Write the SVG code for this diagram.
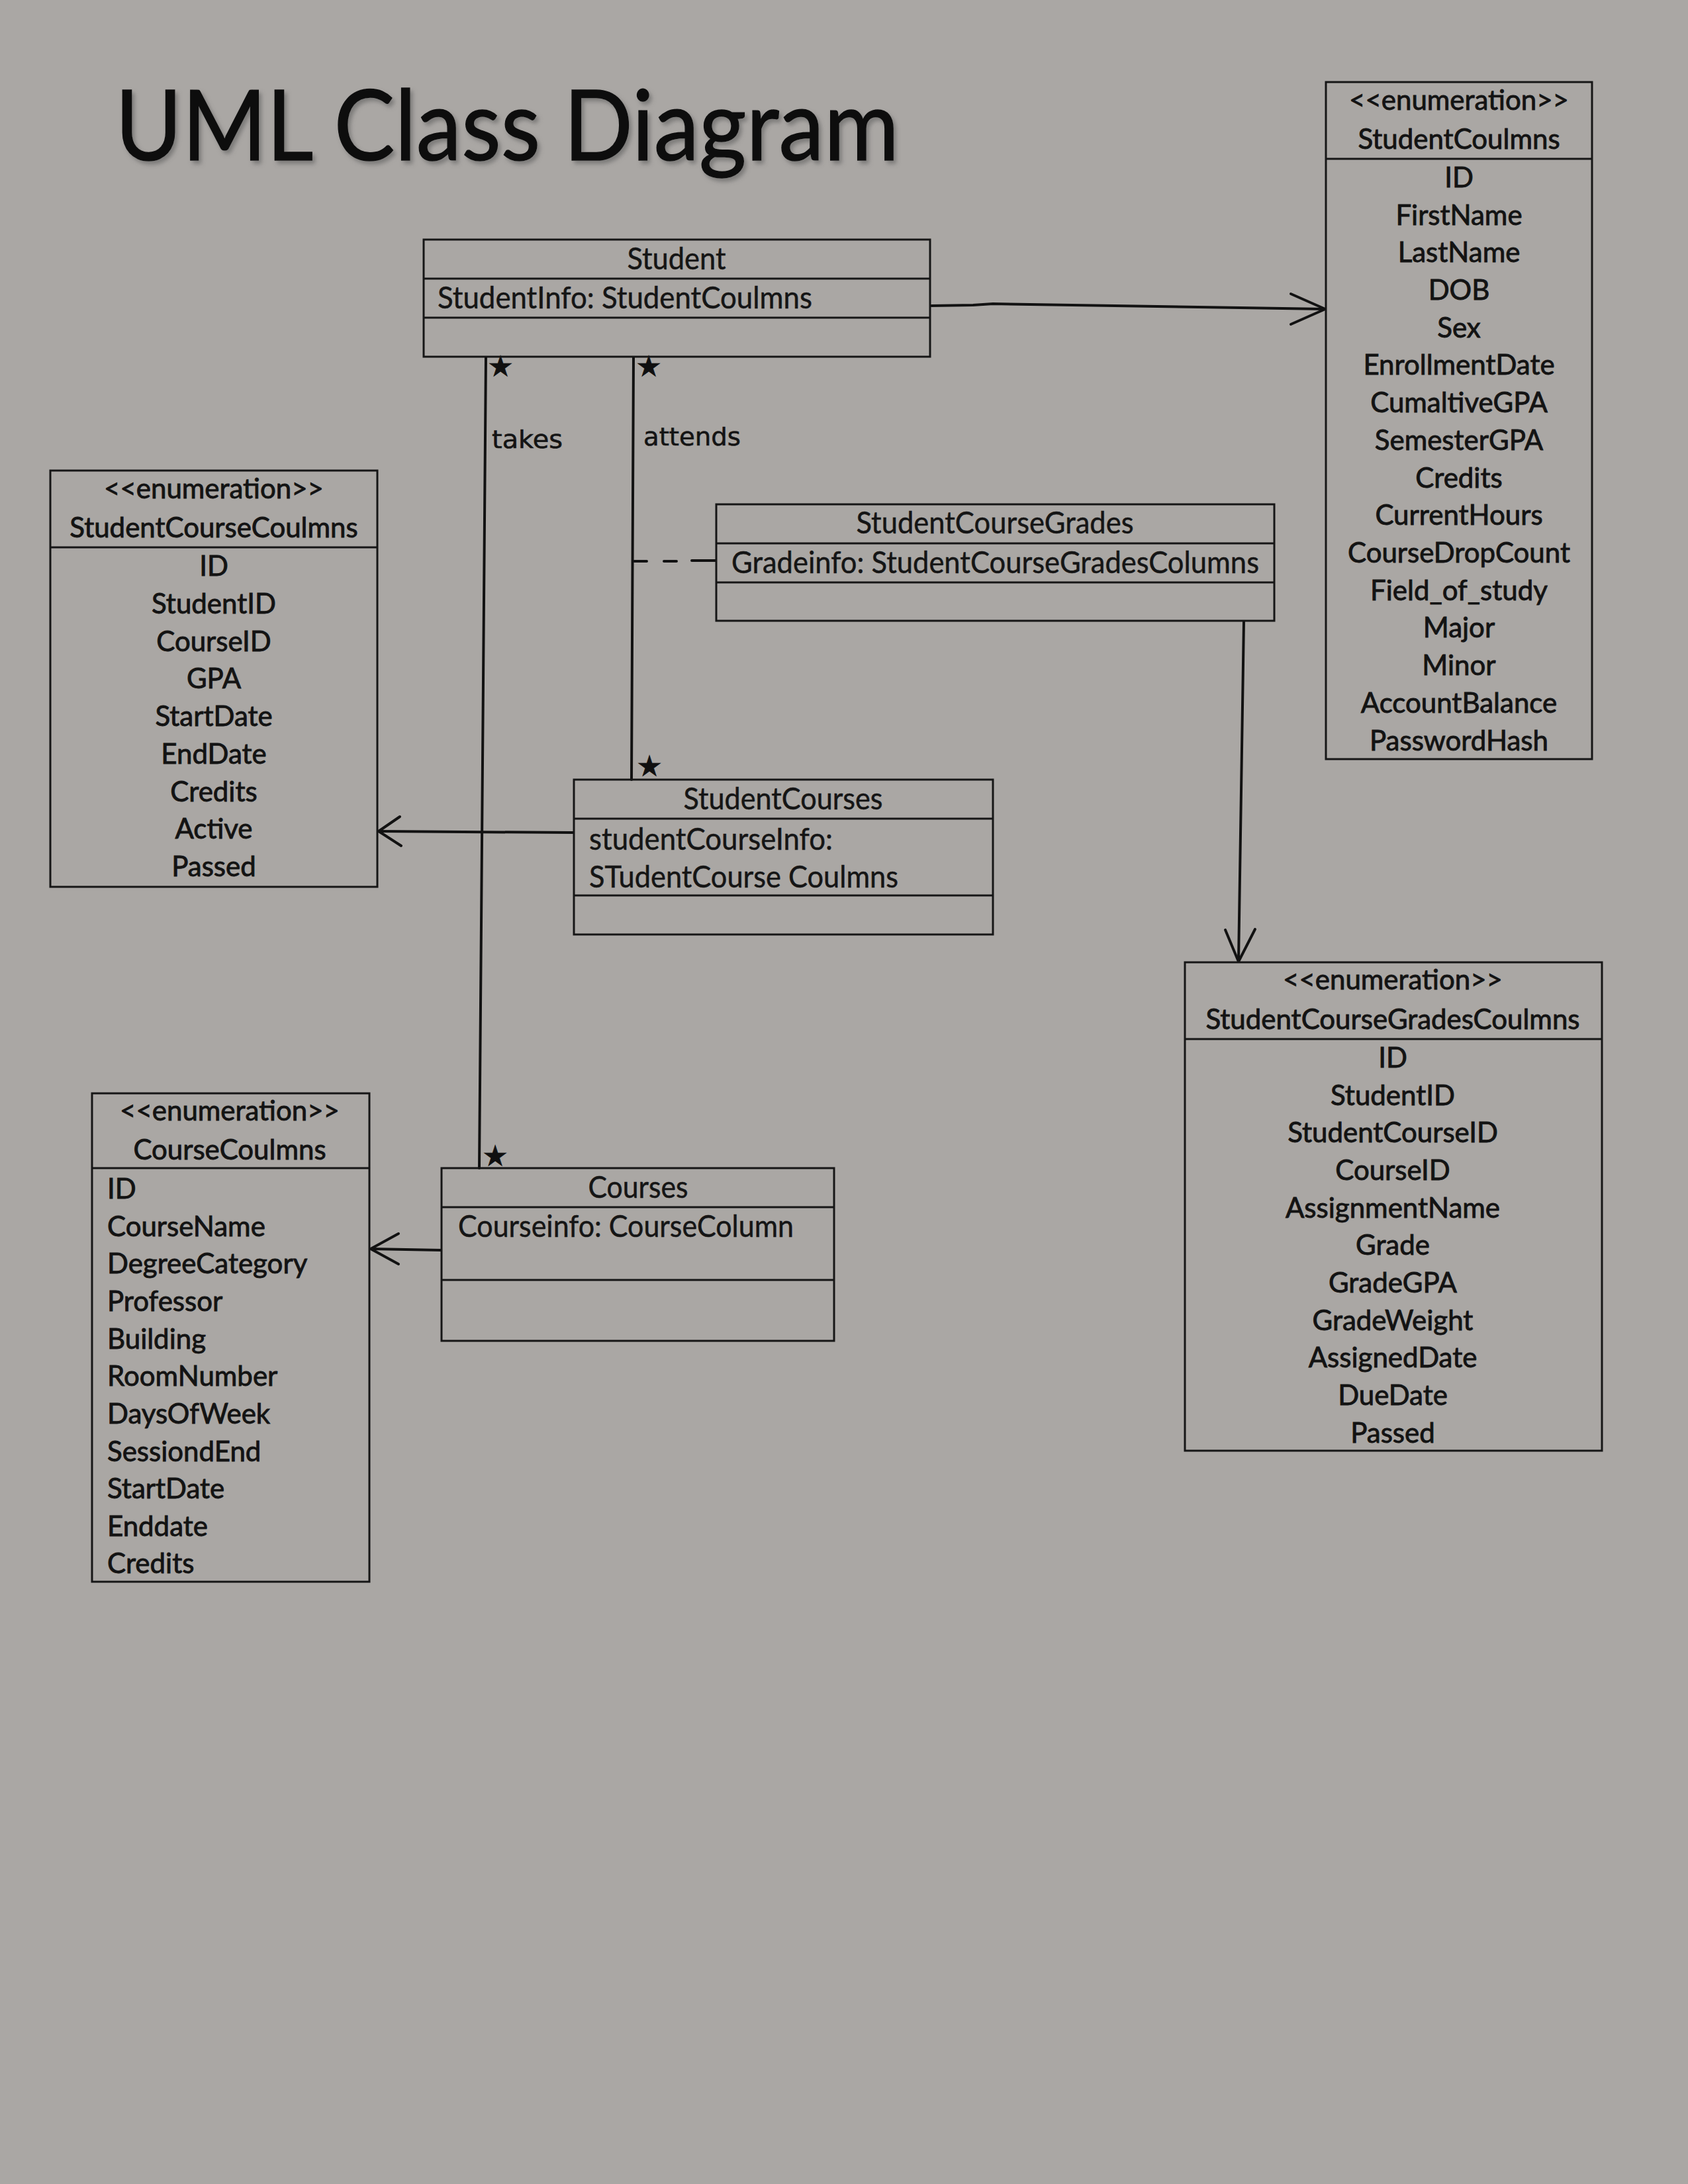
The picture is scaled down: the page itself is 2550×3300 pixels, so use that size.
<svg xmlns="http://www.w3.org/2000/svg" width="2550" height="3300" viewBox="0 0 2550 3300">
  <style>
    .box { fill: none; stroke: #161616; stroke-width: 3; }
    .rule { stroke: #161616; stroke-width: 3; }
    .cls { font-family: Lato, "Open Sans", "Liberation Sans", sans-serif; font-size: 46px; fill: #151515; stroke: #151515; stroke-width: 0.5px; }
    .mid { text-anchor: middle; }
    .enum { font-family: Lato, "Open Sans", "Liberation Sans", sans-serif; font-size: 42px; fill: #131313; stroke: #131313; stroke-width: 0.9px; }
    .conn { fill: none; stroke: #121212; stroke-width: 4; stroke-linecap: round; stroke-linejoin: round; }
    .mult { font-family: "DejaVu Sans", sans-serif; font-size: 42px; fill: #101010; stroke: #101010; stroke-width: 1px; text-anchor: middle; }
    .hand { font-family: "DejaVu Sans", sans-serif; font-size: 38px; fill: #141414; stroke: #141414; stroke-width: 0.6px; }
    .title { font-family: Lato, "Open Sans", "Liberation Sans", sans-serif; font-size: 148px; fill: #0c0c0c; stroke: #0c0c0c; stroke-width: 1.5px; }
  </style>
  <defs>
    <filter id="soft" x="-5%" y="-20%" width="110%" height="140%">
      <feDropShadow dx="4" dy="5" stdDeviation="3" flood-color="#555" flood-opacity="0.55"/>
    </filter>
  </defs>

  <!-- paper -->
  <rect x="0" y="0" width="2550" height="3300" fill="#aaa7a4"/>

  <!-- heading -->
  <text class="title" x="174" y="242" textLength="1184" lengthAdjust="spacingAndGlyphs" filter="url(#soft)">UML Class Diagram</text>

  <!-- associations and dependencies -->
  <g id="connectors">
    <!-- Student to StudentCoulmns -->
    <path class="conn" d="M1407 462 L1470 461 L1500 459 L2001 467"/>
    <path class="conn" d="M1950 444 L2002 467 L1950 490"/>
    <!-- takes: Student with Courses -->
    <path class="conn" d="M734 540 L724 1765"/>
    <text class="mult" x="756" y="568">★</text>
    <text class="mult" x="748" y="1761">★</text>
    <text class="hand" x="743" y="677" textLength="107" lengthAdjust="spacingAndGlyphs">takes</text>
    <!-- attends: Student with StudentCourses -->
    <path class="conn" d="M957 540 L954 1178"/>
    <text class="mult" x="980" y="568">★</text>
    <text class="mult" x="981" y="1172">★</text>
    <text class="hand" x="972" y="673" textLength="147" lengthAdjust="spacingAndGlyphs">attends</text>
    <!-- association class link -->
    <path class="conn" d="M958 848 H977 M1003 848 H1022 M1045 847 H1081"/>
    <!-- StudentCourseGrades to StudentCourseGradesCoulmns -->
    <path class="conn" d="M1879 939 L1871 1453"/>
    <path class="conn" d="M1851 1405 L1871 1453 L1896 1404"/>
    <!-- StudentCourses to StudentCourseCoulmns -->
    <path class="conn" d="M866 1258 L700 1257 L572 1256"/>
    <path class="conn" d="M604 1234 L572 1256 L606 1278"/>
    <!-- Courses to CourseCoulmns -->
    <path class="conn" d="M666 1889 L560 1887"/>
    <path class="conn" d="M602 1864 L560 1887 L602 1910"/>
  </g>

  <g id="student">
    <rect class="box" x="640" y="362" width="765" height="177"/>
    <line class="rule" x1="640" y1="421" x2="1405" y2="421"/>
    <line class="rule" x1="640" y1="480" x2="1405" y2="480"/>
    <text class="cls mid" x="1022" y="407" textLength="149" lengthAdjust="spacingAndGlyphs">Student</text>
    <text class="cls" x="661" y="466" textLength="566" lengthAdjust="spacingAndGlyphs">StudentInfo: StudentCoulmns</text>
  </g>

  <g id="student-coulmns">
    <rect class="box" x="2003" y="124" width="402" height="1023"/>
    <line class="rule" x1="2003" y1="240" x2="2405" y2="240"/>
    <g class="enum mid">
      <text x="2204" y="166">&lt;&lt;enumeration&gt;&gt;</text>
      <text x="2204" y="225">StudentCoulmns</text>
      <text x="2204" y="283">ID</text>
      <text x="2204" y="340">FirstName</text>
      <text x="2204" y="396">LastName</text>
      <text x="2204" y="453">DOB</text>
      <text x="2204" y="510">Sex</text>
      <text x="2204" y="566">EnrollmentDate</text>
      <text x="2204" y="623">CumaltiveGPA</text>
      <text x="2204" y="680">SemesterGPA</text>
      <text x="2204" y="737">Credits</text>
      <text x="2204" y="793">CurrentHours</text>
      <text x="2204" y="850">CourseDropCount</text>
      <text x="2204" y="907">Field_of_study</text>
      <text x="2204" y="963">Major</text>
      <text x="2204" y="1020">Minor</text>
      <text x="2204" y="1077">AccountBalance</text>
      <text x="2204" y="1134">PasswordHash</text>
    </g>
  </g>

  <g id="student-course-coulmns">
    <rect class="box" x="76" y="711" width="494" height="629"/>
    <line class="rule" x1="76" y1="827" x2="570" y2="827"/>
    <g class="enum mid">
      <text x="323" y="753">&lt;&lt;enumeration&gt;&gt;</text>
      <text x="323" y="812">StudentCourseCoulmns</text>
      <text x="323" y="870">ID</text>
      <text x="323" y="927">StudentID</text>
      <text x="323" y="984">CourseID</text>
      <text x="323" y="1040">GPA</text>
      <text x="323" y="1097">StartDate</text>
      <text x="323" y="1154">EndDate</text>
      <text x="323" y="1211">Credits</text>
      <text x="323" y="1267">Active</text>
      <text x="323" y="1324">Passed</text>
    </g>
  </g>

  <g id="student-course-grades">
    <rect class="box" x="1082" y="762" width="843" height="176"/>
    <line class="rule" x1="1082" y1="821" x2="1925" y2="821"/>
    <line class="rule" x1="1082" y1="880" x2="1925" y2="880"/>
    <text class="cls mid" x="1503" y="806" textLength="419" lengthAdjust="spacingAndGlyphs">StudentCourseGrades</text>
    <text class="cls" x="1105" y="866" textLength="797" lengthAdjust="spacingAndGlyphs">Gradeinfo: StudentCourseGradesColumns</text>
  </g>

  <g id="student-courses">
    <rect class="box" x="867" y="1178" width="633" height="234"/>
    <line class="rule" x1="867" y1="1237" x2="1500" y2="1237"/>
    <line class="rule" x1="867" y1="1353" x2="1500" y2="1353"/>
    <text class="cls mid" x="1183" y="1223" textLength="301" lengthAdjust="spacingAndGlyphs">StudentCourses</text>
    <text class="cls" x="890" y="1284" textLength="368" lengthAdjust="spacingAndGlyphs">studentCourseInfo:</text>
    <text class="cls" x="890" y="1341" textLength="467" lengthAdjust="spacingAndGlyphs">STudentCourse Coulmns</text>
  </g>

  <g id="student-course-grades-coulmns">
    <rect class="box" x="1790" y="1454" width="630" height="738"/>
    <line class="rule" x1="1790" y1="1570" x2="2420" y2="1570"/>
    <g class="enum mid">
      <text x="2104" y="1495">&lt;&lt;enumeration&gt;&gt;</text>
      <text x="2104" y="1555">StudentCourseGradesCoulmns</text>
      <text x="2104" y="1613">ID</text>
      <text x="2104" y="1670">StudentID</text>
      <text x="2104" y="1726">StudentCourseID</text>
      <text x="2104" y="1783">CourseID</text>
      <text x="2104" y="1840">AssignmentName</text>
      <text x="2104" y="1896">Grade</text>
      <text x="2104" y="1953">GradeGPA</text>
      <text x="2104" y="2010">GradeWeight</text>
      <text x="2104" y="2066">AssignedDate</text>
      <text x="2104" y="2123">DueDate</text>
      <text x="2104" y="2180">Passed</text>
    </g>
  </g>

  <g id="courses">
    <rect class="box" x="667" y="1765" width="593" height="261"/>
    <line class="rule" x1="667" y1="1824" x2="1260" y2="1824"/>
    <line class="rule" x1="667" y1="1934" x2="1260" y2="1934"/>
    <text class="cls mid" x="964" y="1810" textLength="151" lengthAdjust="spacingAndGlyphs">Courses</text>
    <text class="cls" x="692" y="1869" textLength="507" lengthAdjust="spacingAndGlyphs">Courseinfo: CourseColumn</text>
  </g>

  <g id="course-coulmns">
    <rect class="box" x="139" y="1652" width="419" height="738"/>
    <line class="rule" x1="139" y1="1765" x2="558" y2="1765"/>
    <g class="enum mid">
      <text x="347" y="1693">&lt;&lt;enumeration&gt;&gt;</text>
      <text x="347" y="1752">CourseCoulmns</text>
    </g>
    <g class="enum">
      <text x="162" y="1811">ID</text>
      <text x="162" y="1868">CourseName</text>
      <text x="162" y="1924">DegreeCategory</text>
      <text x="162" y="1981">Professor</text>
      <text x="162" y="2038">Building</text>
      <text x="162" y="2094">RoomNumber</text>
      <text x="162" y="2151">DaysOfWeek</text>
      <text x="162" y="2208">SessiondEnd</text>
      <text x="162" y="2264">StartDate</text>
      <text x="162" y="2321">Enddate</text>
      <text x="162" y="2377">Credits</text>
    </g>
  </g>
</svg>
